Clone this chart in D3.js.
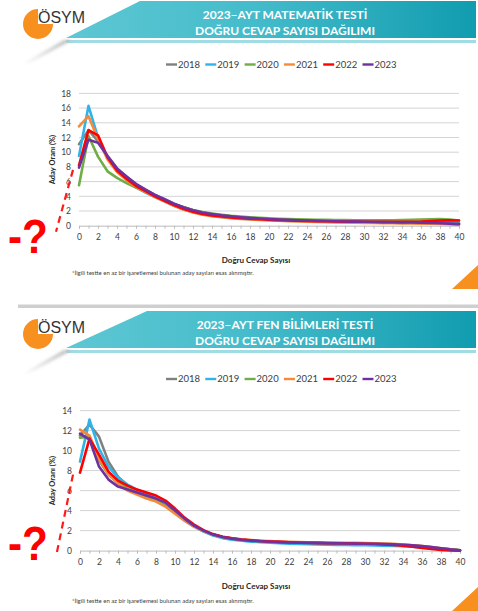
<!DOCTYPE html>
<html>
<head>
<meta charset="utf-8">
<script src="https://cdn.jsdelivr.net/npm/d3@7"></script>
<style>
  body { margin: 0; background: #fff; }
  svg { display: block; }
</style>
</head>
<body>
<svg id="chart" width="478" height="611"></svg>
<script>
// ---- data -------------------------------------------------------------
const years = ["2018", "2019", "2020", "2021", "2022", "2023"];
const yearColors = ["#808080", "#2fb4ea", "#70ad47", "#f58a3a", "#ff0000", "#7030a0"];
const correctCounts = d3.range(0, 41);          // 0..40 correct answers
const xTickValues = d3.range(0, 41, 2);

// AYT Matematik – share of candidates (%) by number of correct answers
const mat2018 = [11.1, 13.0, 11.5, 9.4, 7.8, 6.7, 5.6, 4.9, 4.2, 3.6, 3.0, 2.5, 2.1, 1.8, 1.55, 1.35, 1.2, 1.1, 1.0, 0.95, 0.9, 0.85, 0.8, 0.75, 0.7, 0.68, 0.65, 0.62, 0.6, 0.58, 0.56, 0.55, 0.54, 0.53, 0.52, 0.5, 0.5, 0.48, 0.45, 0.42, 0.35];
const mat2019 = [9.5, 16.3, 12.0, 9.2, 7.4, 6.2, 5.2, 4.5, 3.9, 3.3, 2.7, 2.2, 1.85, 1.55, 1.35, 1.2, 1.08, 0.98, 0.9, 0.84, 0.78, 0.73, 0.68, 0.64, 0.6, 0.57, 0.54, 0.51, 0.49, 0.47, 0.45, 0.43, 0.42, 0.4, 0.38, 0.36, 0.34, 0.32, 0.3, 0.28, 0.25];
const mat2020 = [5.5, 12.2, 9.4, 7.4, 6.5, 5.8, 5.2, 4.6, 4.0, 3.4, 2.9, 2.5, 2.15, 1.85, 1.65, 1.5, 1.35, 1.25, 1.15, 1.08, 1.0, 0.95, 0.9, 0.87, 0.84, 0.81, 0.79, 0.77, 0.76, 0.75, 0.74, 0.74, 0.74, 0.75, 0.77, 0.8, 0.85, 0.88, 0.9, 0.85, 0.7];
const mat2021 = [13.5, 14.9, 11.8, 9.0, 7.3, 6.2, 5.3, 4.6, 3.9, 3.3, 2.7, 2.2, 1.8, 1.5, 1.3, 1.15, 1.03, 0.93, 0.85, 0.78, 0.72, 0.67, 0.62, 0.58, 0.54, 0.51, 0.48, 0.45, 0.43, 0.41, 0.39, 0.37, 0.35, 0.33, 0.31, 0.3, 0.28, 0.27, 0.25, 0.22, 0.18];
const mat2022 = [8.2, 13.0, 12.3, 9.3, 7.5, 6.4, 5.4, 4.7, 4.0, 3.4, 2.8, 2.3, 1.9, 1.6, 1.4, 1.25, 1.12, 1.02, 0.94, 0.87, 0.81, 0.76, 0.72, 0.68, 0.65, 0.62, 0.6, 0.58, 0.56, 0.55, 0.54, 0.53, 0.52, 0.52, 0.52, 0.53, 0.56, 0.62, 0.7, 0.75, 0.7];
const mat2023 = [7.9, 11.7, 11.3, 9.5, 7.8, 6.7, 5.7, 4.9, 4.2, 3.6, 3.0, 2.5, 2.1, 1.8, 1.6, 1.42, 1.28, 1.16, 1.06, 0.98, 0.9, 0.84, 0.79, 0.74, 0.7, 0.66, 0.63, 0.6, 0.57, 0.55, 0.53, 0.51, 0.49, 0.47, 0.45, 0.43, 0.4, 0.37, 0.33, 0.28, 0.22];
const matYTicks = d3.range(0, 19, 2);

// AYT Fen Bilimleri – share of candidates (%) by number of correct answers
const fen2018 = [11.5, 12.6, 11.4, 8.9, 7.4, 6.5, 6.0, 5.6, 5.2, 4.6, 3.9, 3.1, 2.5, 2.0, 1.6, 1.35, 1.2, 1.08, 1.0, 0.93, 0.87, 0.82, 0.78, 0.75, 0.72, 0.7, 0.68, 0.67, 0.66, 0.65, 0.64, 0.62, 0.6, 0.57, 0.53, 0.47, 0.4, 0.3, 0.2, 0.1, 0.02];
const fen2019 = [8.9, 13.1, 10.2, 8.4, 7.3, 6.6, 6.1, 5.7, 5.2, 4.6, 3.8, 3.0, 2.4, 1.9, 1.5, 1.25, 1.1, 0.98, 0.9, 0.84, 0.78, 0.73, 0.69, 0.66, 0.63, 0.61, 0.59, 0.57, 0.56, 0.55, 0.54, 0.52, 0.5, 0.47, 0.43, 0.38, 0.31, 0.23, 0.15, 0.08, 0.02];
const fen2020 = [11.3, 11.4, 9.0, 7.6, 6.8, 6.2, 5.8, 5.4, 5.0, 4.5, 3.8, 3.1, 2.5, 2.0, 1.6, 1.35, 1.2, 1.08, 1.0, 0.94, 0.89, 0.85, 0.82, 0.79, 0.77, 0.75, 0.73, 0.72, 0.71, 0.7, 0.69, 0.67, 0.65, 0.62, 0.58, 0.52, 0.44, 0.34, 0.23, 0.12, 0.03];
const fen2021 = [12.1, 11.5, 9.2, 7.6, 6.7, 6.0, 5.6, 5.2, 4.9, 4.4, 3.7, 3.0, 2.4, 1.95, 1.6, 1.38, 1.24, 1.13, 1.05, 0.99, 0.95, 0.91, 0.88, 0.86, 0.84, 0.82, 0.81, 0.8, 0.79, 0.78, 0.76, 0.74, 0.71, 0.67, 0.61, 0.54, 0.45, 0.35, 0.24, 0.13, 0.03];
const fen2022 = [7.8, 11.2, 9.6, 7.9, 7.0, 6.5, 6.1, 5.8, 5.5, 5.0, 4.2, 3.3, 2.6, 2.05, 1.65, 1.38, 1.22, 1.1, 1.02, 0.96, 0.91, 0.87, 0.84, 0.81, 0.79, 0.77, 0.75, 0.74, 0.73, 0.71, 0.69, 0.66, 0.62, 0.56, 0.48, 0.38, 0.27, 0.16, 0.07, 0.02, 0.0];
const fen2023 = [11.7, 11.1, 8.4, 7.1, 6.4, 6.1, 5.8, 5.5, 5.2, 4.8, 4.0, 3.2, 2.5, 2.0, 1.6, 1.36, 1.2, 1.08, 1.0, 0.94, 0.89, 0.85, 0.82, 0.79, 0.77, 0.75, 0.73, 0.72, 0.71, 0.7, 0.69, 0.68, 0.66, 0.63, 0.59, 0.53, 0.45, 0.35, 0.24, 0.12, 0.03];
const fenYTicks = d3.range(0, 15, 2);

const xTitle = "Doğru Cevap Sayısı";
const yTitle = "Aday Oranı (%)";
const footnote = "*İlgili testte en az bir işaretlemesi bulunan aday sayıları esas alınmıştır.";

// ---- drawing ----------------------------------------------------------
const svg = d3.select("#chart");
const defs = svg.append("defs");

const bannerGrad = defs.append("linearGradient").attr("id", "bannerGrad")
  .attr("x1", "0%").attr("x2", "100%").attr("y1", "0%").attr("y2", "0%");
bannerGrad.append("stop").attr("offset", "0%").attr("stop-color", "#5ec7d3");
bannerGrad.append("stop").attr("offset", "45%").attr("stop-color", "#45bccb");
bannerGrad.append("stop").attr("offset", "100%").attr("stop-color", "#119caf");

const foldGrad = defs.append("linearGradient").attr("id", "foldGrad")
  .attr("x1", "100%").attr("x2", "0%").attr("y1", "0%").attr("y2", "100%");
foldGrad.append("stop").attr("offset", "0%").attr("stop-color", "#b8b8b8");
foldGrad.append("stop").attr("offset", "100%").attr("stop-color", "#ffffff");

defs.append("filter").attr("id", "soft")
  .append("feGaussianBlur").attr("stdDeviation", 1.4);

function header(g, top, lines) {
  // teal banner with slanted left edge
  g.append("path")
    .attr("d", `M${140 + (top > 0 ? 7 : 0)},${top + 1} L476,${top + 1} L476,${top + 38} L66,${top + 38} Z`)
    .attr("fill", "url(#bannerGrad)");
  g.append("rect").attr("x", 66).attr("y", top + 40).attr("width", 410).attr("height", 3)
    .attr("fill", "#9fdce3");
  // soft fold shadow below the slanted edge
  g.append("path")
    .attr("d", `M72,${top + 40} L64,${top + 40} L22,${top + 64} L28,${top + 64} Z`)
    .attr("fill", "url(#foldGrad)").attr("filter", "url(#soft)");
  // logo
  const arc = d3.arc().innerRadius(0).outerRadius(15).startAngle(Math.PI / 2).endAngle(2 * Math.PI);
  g.append("path").attr("transform", `translate(38,${top + 24})`).attr("d", arc()).attr("fill", "#f7901e");
  g.append("text").attr("x", 38).attr("y", top + 23)
    .attr("font-family", "Liberation Sans, Arial, sans-serif").attr("font-size", 16)
    .attr("fill", "#333").text("ÖSYM");
  // title
  lines.forEach((t, i) => {
    g.append("text").attr("x", 285).attr("y", top + 19 + i * 16)
      .attr("text-anchor", "middle").attr("font-family", "Lato, sans-serif")
      .attr("font-weight", 700).attr("font-size", 12).attr("fill", "#fff").text(t);
  });
}

function panel(cfg) {
  const g = svg.append("g");
  header(g, cfg.headerTop, cfg.titleLines);

  const x = d3.scaleLinear().domain([0, 40]).range([cfg.left, cfg.right]);
  const y = d3.scaleLinear().domain([0, d3.max(cfg.yTicks)]).range([cfg.bottom, cfg.top]);

  // grid lines
  g.append("g").selectAll("line").data(cfg.yTicks.filter(d => d > 0)).join("line")
    .attr("x1", cfg.left).attr("x2", cfg.right)
    .attr("y1", d => y(d)).attr("y2", d => y(d))
    .attr("stroke", "#d4d4d4").attr("stroke-width", 1);

  // y axis labels
  const yAxis = d3.axisLeft(y).tickValues(cfg.yTicks).tickSize(0).tickPadding(8);
  const ya = g.append("g").attr("transform", `translate(${cfg.left},0)`).call(yAxis);
  ya.select(".domain").remove();
  ya.selectAll("text").attr("font-family", "Lato, sans-serif").attr("font-size", 8.5).attr("fill", "#404040");

  // x axis with minor ticks at every count
  const xAxisMinor = d3.axisBottom(x).tickValues(correctCounts).tickSize(3).tickFormat("");
  const xm = g.append("g").attr("transform", `translate(0,${cfg.bottom})`).call(xAxisMinor);
  xm.select(".domain").attr("stroke", "#bcbcbc");
  xm.selectAll(".tick line").attr("stroke", "#bcbcbc");
  const xAxis = d3.axisBottom(x).tickValues(xTickValues).tickSize(0).tickPadding(8);
  const xa = g.append("g").attr("transform", `translate(0,${cfg.bottom})`).call(xAxis);
  xa.select(".domain").remove();
  xa.selectAll("text").attr("font-family", "Lato, sans-serif").attr("font-size", 8.5).attr("fill", "#404040");

  // series
  const line = d3.line().x((d, i) => x(correctCounts[i])).y(d => y(d));
  g.append("g").selectAll("path").data(cfg.series).join("path")
    .attr("d", d => line(d)).attr("fill", "none")
    .attr("stroke", (d, i) => yearColors[i]).attr("stroke-width", 2.6)
    .attr("stroke-linejoin", "round").attr("stroke-linecap", "round");

  // legend
  const leg = g.append("g").attr("transform", `translate(166,${cfg.legendY})`);
  const item = leg.selectAll("g").data(years).join("g")
    .attr("transform", (d, i) => `translate(${i * 39.3},0)`);
  item.append("line").attr("x1", 0).attr("x2", 11).attr("y1", 0).attr("y2", 0)
    .attr("stroke", (d, i) => yearColors[i]).attr("stroke-width", 2.4);
  item.append("text").attr("x", 12).attr("y", 3.3).attr("font-family", "Lato, sans-serif")
    .attr("font-size", 9.5).attr("fill", "#404040").text(d => d);

  // axis titles and footnote
  g.append("text").attr("transform", `translate(${55},${(cfg.top + cfg.bottom) / 2}) rotate(-90)`)
    .attr("text-anchor", "middle").attr("font-family", "Lato, sans-serif").attr("font-weight", 700)
    .attr("font-size", 7.5).attr("fill", "#262626").text(yTitle);
  g.append("text").attr("x", 256).attr("y", cfg.bottom + cfg.xTitleDy)
    .attr("text-anchor", "middle").attr("font-family", "Lato, sans-serif").attr("font-weight", 700)
    .attr("font-size", 8).attr("fill", "#262626").text(xTitle);
  g.append("text").attr("x", 72).attr("y", cfg.bottom + cfg.noteDy)
    .attr("font-family", "Lato, sans-serif").attr("font-size", 6).attr("fill", "#404040").text(footnote);

  // red hand-drawn question mark and dashed stroke
  g.append("path")
    .attr("d", `M73,${y(7.6)} L56,${cfg.bottom + 6}`)
    .attr("stroke", "#ff1a1a").attr("stroke-width", 2.2).attr("stroke-dasharray", "7,5").attr("fill", "none");
  g.append("text").attr("transform", `translate(8,${cfg.bottom + cfg.qDy}) scale(0.88,1)`)
    .attr("font-family", "Liberation Sans, Arial, sans-serif").attr("font-weight", 700)
    .attr("font-size", 48).attr("fill", "#ff0000").text("-?");

  // orange corner wedge
  g.append("path")
    .attr("d", `M${478},${cfg.cornerY - 24} L478,${cfg.cornerY} L452,${cfg.cornerY} Z`)
    .attr("fill", "#f7901e");
}

panel({
  headerTop: 0,
  titleLines: ["2023–AYT MATEMATİK TESTİ", "DOĞRU CEVAP SAYISI DAĞILIMI"],
  series: [mat2018, mat2019, mat2020, mat2021, mat2022, mat2023],
  yTicks: matYTicks,
  left: 79, right: 459, top: 93.4, bottom: 225.7,
  legendY: 64.5, xTitleDy: 37, noteDy: 49, qDy: 27.5, cornerY: 289
});

// gray strip above the second slide
svg.append("rect").attr("x", 18).attr("y", 304.5).attr("width", 460).attr("height", 3.5).attr("fill", "#cfcfcf");

panel({
  headerTop: 310,
  titleLines: ["2023–AYT FEN BİLİMLERİ TESTİ", "DOĞRU CEVAP SAYISI DAĞILIMI"],
  series: [fen2018, fen2019, fen2020, fen2021, fen2022, fen2023],
  yTicks: fenYTicks,
  left: 80, right: 460, top: 410.6, bottom: 550.6,
  legendY: 379, xTitleDy: 38, noteDy: 52, qDy: 9.5, cornerY: 611
});
</script>
</body>
</html>
